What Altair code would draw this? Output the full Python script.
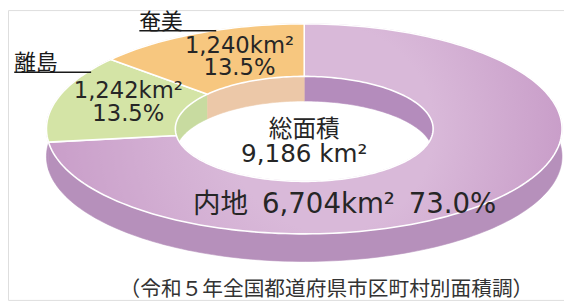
import numpy as np
import pandas as pd
import altair as alt

# ---- data -------------------------------------------------------------
categories = ["内地", "離島", "奄美"]
areas_km2 = [6704, 1242, 1240]
total_label = "総面積"
source_note = "（令和５年全国都道府県市区町村別面積調）"

# ---- style ------------------------------------------------------------
top_colors = ["#cca2cc", "#d4e4a6", "#f7c77f"]
side_colors = ["#b690bb", "#b690bb", "#e0ad6a"]
wall_colors = ["#b48cbc", "#c8dba0", "#ecc8a8"]
TEXT = "#262626"
NUM_FONT = "DejaVu Sans, Noto Sans CJK JP"
JP_FONT = "Noto Sans CJK JP"
GAP = "\u2002"

# page geometry of the ellipse (pixels) -> data units
CX, CY, A, B = 308.5, 128.5, 261.5, 106.5
R_IN = 0.5
T_OUT = 28 / B
T_IN = 25 / B
W, H = 564, 294
UMIN, UMAX = (8 - CX) / A, (8 + W - CX) / A
VMIN, VMAX = (CY - 8 - H) / B, (CY - 8) / B

total = sum(areas_km2)
cum = np.cumsum([0] + areas_km2) / total * 2 * np.pi
starts, ends = cum[:-1], cum[1:]


def arc(t0, t1, r, shift):
    n = max(6, int(abs(t1 - t0) / np.pi * 180 / 1.5))
    th = np.linspace(t0, t1, n)
    return list(r * np.sin(th)), list(r * np.cos(th) - shift)


rows = []
for i, cat in enumerate(categories):
    t0, t1 = starts[i], ends[i]
    shapes = {
        "side": (arc(t0, t1, 1.0, 0), arc(t1, t0, 1.0, T_OUT)),
        "wall": (arc(t0, t1, R_IN, 0), arc(t1, t0, R_IN, T_IN)),
        "top": (arc(t0, t1, 1.0, 0), arc(t1, t0, R_IN, 0)),
    }
    for kind, (p1, p2) in shapes.items():
        us = p1[0] + p2[0] + [p1[0][0]]
        vs = p1[1] + p2[1] + [p1[1][0]]
        for k, (u, v) in enumerate(zip(us, vs)):
            rows.append(dict(kind=kind, cat=cat, k=k, u=u, v=v))
poly = pd.DataFrame(rows)


def xq(field):
    return alt.X(field, scale=alt.Scale(domain=[UMIN, UMAX], nice=False, zero=False), axis=None)


def yq(field):
    return alt.Y(field, scale=alt.Scale(domain=[VMIN, VMAX], nice=False, zero=False), axis=None)


base = alt.Chart(poly)
layers = []
for kind, colors in (("side", side_colors), ("wall", wall_colors)):
    for i, cat in enumerate(categories):
        layers.append(
            base.transform_filter((alt.datum.kind == kind) & (alt.datum.cat == cat))
            .mark_line(fill=colors[i], stroke=colors[i], strokeWidth=0.6)
            .encode(x=xq("u:Q"), y=yq("v:Q"), order="k:Q")
        )

grad_main = alt.Gradient(
    gradient="radial",
    stops=[alt.GradientStop(color="#d9b9d9", offset=0), alt.GradientStop(color="#c99ec9", offset=1)],
    x1=0.55, y1=0.5, x2=0.5, y2=0.5, r1=0.2, r2=0.5,
)
for i, cat in enumerate(categories):
    fill = grad_main if i == 0 else top_colors[i]
    layers.append(
        base.transform_filter((alt.datum.kind == "top") & (alt.datum.cat == cat))
        .mark_line(fill=fill, stroke="white", strokeWidth=1.6, strokeJoin="round")
        .encode(x=xq("u:Q"), y=yq("v:Q"), order="k:Q")
    )

# ---- labels (positions derived from the slice angles) -------------------
pct = [a / total * 100 for a in areas_km2]
mids = (starts + ends) / 2
val_offsets = {"離島": (9, -3), "奄美": (15, 0)}
lab_rows = []
for i, cat in enumerate(categories[1:], start=1):
    dx, dy = val_offsets[cat]
    u = 0.75 * np.sin(mids[i]) + dx / A
    v = 0.75 * np.cos(mids[i]) - dy / B
    lab_rows.append(dict(t=f"{areas_km2[i]:,}km²", u=u, v=v + 11.5 / B))
    lab_rows.append(dict(t=f"{pct[i]:.1f}%", u=u, v=v - 11.5 / B))
lab_df = pd.DataFrame(lab_rows)
layers.append(
    alt.Chart(lab_df).mark_text(font=NUM_FONT, fontSize=23, color=TEXT,
                                align="center", baseline="middle")
    .encode(x=xq("u:Q"), y=yq("v:Q"), text="t:N")
)

# main label on the front of the ring
main_df = pd.DataFrame([dict(t=f"{categories[0]}{GAP}{areas_km2[0]:,}km²{GAP}{pct[0]:.1f}%",
                             u=0.73 * np.sin(np.pi) + 41 / A, v=0.73 * np.cos(np.pi))])
layers.append(
    alt.Chart(main_df).mark_text(font=NUM_FONT, fontSize=28, color=TEXT,
                                 align="center", baseline="middle")
    .encode(x=xq("u:Q"), y=yq("v:Q"), text="t:N")
)

# centre label
layers.append(
    alt.Chart(pd.DataFrame([dict(t=total_label, u=0.0, v=-1.5 / B)]))
    .mark_text(font=JP_FONT, fontSize=24, color=TEXT, align="center", baseline="middle")
    .encode(x=xq("u:Q"), y=yq("v:Q"), text="t:N")
)
layers.append(
    alt.Chart(pd.DataFrame([dict(t=f"{total:,} km²", u=0.0, v=-26 / B)]))
    .mark_text(font=NUM_FONT, fontSize=25, color=TEXT, align="center", baseline="middle")
    .encode(x=xq("u:Q"), y=yq("v:Q"), text="t:N")
)

# category names with underline leaders touching the ring edge
leader_frac = {"離島": 0.82, "奄美": 0.57}
LEAD = 78 / A
INSET = 4 / A
name_rows = []
for i, cat in enumerate(categories[1:], start=1):
    th = starts[i] + leader_frac[cat] * (ends[i] - starts[i])
    ue, ve = np.sin(th) + INSET, np.cos(th)
    name_rows.append(dict(t=cat, u0=ue - LEAD, u1=ue, v=ve, vt=ve + 9 / B))
name_df = pd.DataFrame(name_rows)
layers.append(
    alt.Chart(name_df).mark_rule(color="#1a1a1a", strokeWidth=1.6)
    .encode(x=xq("u0:Q"), x2="u1:Q", y=yq("v:Q"))
)
layers.append(
    alt.Chart(name_df).mark_text(font=JP_FONT, fontSize=22, color="#1a1a1a", align="left", baseline="middle")
    .encode(x=xq("u0:Q"), y=yq("vt:Q"), text="t:N")
)

# source note
layers.append(
    alt.Chart(pd.DataFrame([dict(t=source_note)])).mark_text(
        font=JP_FONT, fontSize=21, color="#333333", align="center", baseline="middle")
    .encode(x=alt.value(331 - 8), y=alt.value(292 - 8), text="t:N")
)

chart = alt.layer(*layers).properties(
    width=W, height=H, padding=0,
    autosize=alt.AutoSizeParams(type="none"),
).configure_view(stroke=None).configure(background="white")

chart.save("out.html", embed_options={"renderer": "svg", "actions": False})
